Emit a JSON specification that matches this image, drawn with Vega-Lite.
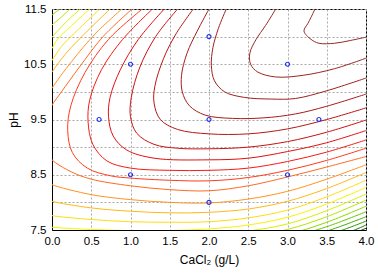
{
  "$schema": "https://vega.github.io/schema/vega-lite/v6.json",
  "width": 314,
  "height": 221,
  "autosize": {"type": "none"},
  "padding": {"left": 52, "top": 9, "right": 12, "bottom": 44},
  "config": {
    "view": {"stroke": "black", "strokeWidth": 1},
    "font": "Liberation Sans",
    "axis": {"labelFont": "Liberation Sans", "titleFont": "Liberation Sans", "labelColor": "black", "titleColor": "black", "labelFontSize": 11.5, "titleFontSize": 12, "titleFontWeight": "normal", "domainColor": "black", "ticks": false, "gridColor": "#a8a8a8", "gridDash": [2, 2], "gridWidth": 1}
  },
  "datasets": {
    "c": [
      {"s":1,"k":1,"x":3.35,"y":11.5},{"s":1,"k":1,"x":3.30,"y":11.35},{"s":1,"k":1,"x":3.26,"y":11.24},{"s":1,"k":1,"x":3.21,"y":11.1},{"s":1,"k":1,"x":3.3,"y":10.95},{"s":1,"k":1,"x":3.4,"y":10.88},{"s":1,"k":1,"x":3.6,"y":10.88},{"s":1,"k":1,"x":3.8,"y":10.93},{"s":1,"k":1,"x":4.0,"y":10.99},
      {"s":2,"k":2,"x":2.85,"y":11.5},{"s":2,"k":2,"x":2.72,"y":11.2},{"s":2,"k":2,"x":2.6,"y":10.95},{"s":2,"k":2,"x":2.52,"y":10.7},{"s":2,"k":2,"x":2.53,"y":10.5},{"s":2,"k":2,"x":2.62,"y":10.36},{"s":2,"k":2,"x":2.85,"y":10.27},{"s":2,"k":2,"x":3.2,"y":10.3},{"s":2,"k":2,"x":3.6,"y":10.42},{"s":2,"k":2,"x":4.0,"y":10.61},
      {"s":3,"k":3,"x":2.22,"y":11.5},{"s":3,"k":3,"x":2.12,"y":11.15},{"s":3,"k":3,"x":2.05,"y":10.8},{"s":3,"k":3,"x":2.03,"y":10.48},{"s":3,"k":3,"x":2.07,"y":10.2},{"s":3,"k":3,"x":2.2,"y":10.0},{"s":3,"k":3,"x":2.45,"y":9.9},{"s":3,"k":3,"x":2.8,"y":9.87},{"s":3,"k":3,"x":3.1,"y":9.88},{"s":3,"k":3,"x":3.5,"y":10.02},{"s":3,"k":3,"x":4.0,"y":10.25},
      {"s":4,"k":4,"x":2.0,"y":11.5},{"s":4,"k":4,"x":1.85,"y":11.1},{"s":4,"k":4,"x":1.72,"y":10.7},{"s":4,"k":4,"x":1.65,"y":10.3},{"s":4,"k":4,"x":1.66,"y":10.0},{"s":4,"k":4,"x":1.75,"y":9.75},{"s":4,"k":4,"x":1.95,"y":9.58},{"s":4,"k":4,"x":2.3,"y":9.52},{"s":4,"k":4,"x":2.7,"y":9.53},{"s":4,"k":4,"x":3.1,"y":9.6},{"s":4,"k":4,"x":3.5,"y":9.74},{"s":4,"k":4,"x":4.0,"y":9.96},
      {"s":5,"k":5,"x":1.8,"y":11.5},{"s":5,"k":5,"x":1.58,"y":11.05},{"s":5,"k":5,"x":1.42,"y":10.6},{"s":5,"k":5,"x":1.31,"y":10.1},{"s":5,"k":5,"x":1.3,"y":9.8},{"s":5,"k":5,"x":1.38,"y":9.5},{"s":5,"k":5,"x":1.6,"y":9.32},{"s":5,"k":5,"x":2.0,"y":9.24},{"s":5,"k":5,"x":2.5,"y":9.24},{"s":5,"k":5,"x":3.0,"y":9.33},{"s":5,"k":5,"x":3.5,"y":9.5},{"s":5,"k":5,"x":4.0,"y":9.71},
      {"s":6,"k":6,"x":1.6,"y":11.5},{"s":6,"k":6,"x":1.32,"y":11.0},{"s":6,"k":6,"x":1.12,"y":10.45},{"s":6,"k":6,"x":1.01,"y":9.9},{"s":6,"k":6,"x":1.0,"y":9.55},{"s":6,"k":6,"x":1.08,"y":9.25},{"s":6,"k":6,"x":1.3,"y":9.05},{"s":6,"k":6,"x":1.6,"y":8.98},{"s":6,"k":6,"x":2.0,"y":8.97},{"s":6,"k":6,"x":2.5,"y":9.0},{"s":6,"k":6,"x":3.0,"y":9.1},{"s":6,"k":6,"x":3.5,"y":9.27},{"s":6,"k":6,"x":4.0,"y":9.49},
      {"s":7,"k":7,"x":1.43,"y":11.5},{"s":7,"k":7,"x":1.1,"y":10.95},{"s":7,"k":7,"x":0.87,"y":10.4},{"s":7,"k":7,"x":0.74,"y":9.9},{"s":7,"k":7,"x":0.72,"y":9.55},{"s":7,"k":7,"x":0.78,"y":9.2},{"s":7,"k":7,"x":0.95,"y":8.95},{"s":7,"k":7,"x":1.3,"y":8.8},{"s":7,"k":7,"x":2.0,"y":8.77},{"s":7,"k":7,"x":2.5,"y":8.8},{"s":7,"k":7,"x":3.0,"y":8.92},{"s":7,"k":7,"x":3.5,"y":9.08},{"s":7,"k":7,"x":4.0,"y":9.3},
      {"s":8,"k":8,"x":1.28,"y":11.5},{"s":8,"k":8,"x":0.9,"y":10.95},{"s":8,"k":8,"x":0.63,"y":10.4},{"s":8,"k":8,"x":0.48,"y":9.85},{"s":8,"k":8,"x":0.46,"y":9.45},{"s":8,"k":8,"x":0.52,"y":9.05},{"s":8,"k":8,"x":0.7,"y":8.75},{"s":8,"k":8,"x":1.0,"y":8.62},{"s":8,"k":8,"x":1.5,"y":8.58},{"s":8,"k":8,"x":2.0,"y":8.58},{"s":8,"k":8,"x":2.5,"y":8.62},{"s":8,"k":8,"x":3.0,"y":8.74},{"s":8,"k":8,"x":3.5,"y":8.91},{"s":8,"k":8,"x":4.0,"y":9.13},
      {"s":9,"k":9,"x":1.15,"y":11.5},{"s":9,"k":9,"x":0.72,"y":10.95},{"s":9,"k":9,"x":0.42,"y":10.35},{"s":9,"k":9,"x":0.24,"y":9.75},{"s":9,"k":9,"x":0.2,"y":9.3},{"s":9,"k":9,"x":0.26,"y":8.9},{"s":9,"k":9,"x":0.45,"y":8.62},{"s":9,"k":9,"x":0.75,"y":8.48},{"s":9,"k":9,"x":1.0,"y":8.44},{"s":9,"k":9,"x":1.5,"y":8.4},{"s":9,"k":9,"x":2.0,"y":8.39},{"s":9,"k":9,"x":2.5,"y":8.45},{"s":9,"k":9,"x":3.0,"y":8.58},{"s":9,"k":9,"x":3.5,"y":8.76},{"s":9,"k":9,"x":4.0,"y":8.98},
      {"s":10,"k":10,"x":1.02,"y":11.5},{"s":10,"k":10,"x":0.65,"y":11.0},{"s":10,"k":10,"x":0.35,"y":10.45},{"s":10,"k":10,"x":0.12,"y":10.0},{"s":10,"k":10,"x":0.0,"y":9.76},{"s":10,"k":10,"x":-0.05,"y":9.62},
      {"s":11,"k":10,"x":-0.05,"y":8.88},{"s":11,"k":10,"x":0.0,"y":8.77},{"s":11,"k":10,"x":0.25,"y":8.55},{"s":11,"k":10,"x":0.5,"y":8.42},{"s":11,"k":10,"x":1.0,"y":8.3},{"s":11,"k":10,"x":1.5,"y":8.23},{"s":11,"k":10,"x":2.0,"y":8.21},{"s":11,"k":10,"x":2.5,"y":8.3},{"s":11,"k":10,"x":3.0,"y":8.46},{"s":11,"k":10,"x":3.5,"y":8.64},{"s":11,"k":10,"x":4.0,"y":8.83},
      {"s":12,"k":11,"x":0.89,"y":11.5},{"s":12,"k":11,"x":0.55,"y":11.05},{"s":12,"k":11,"x":0.25,"y":10.55},{"s":12,"k":11,"x":0.0,"y":10.07},{"s":12,"k":11,"x":-0.05,"y":9.95},
      {"s":13,"k":11,"x":-0.05,"y":8.36},{"s":13,"k":11,"x":0.0,"y":8.32},{"s":13,"k":11,"x":0.5,"y":8.14},{"s":13,"k":11,"x":1.0,"y":8.05},{"s":13,"k":11,"x":1.5,"y":8.0},{"s":13,"k":11,"x":2.0,"y":7.99},{"s":13,"k":11,"x":2.5,"y":8.06},{"s":13,"k":11,"x":3.0,"y":8.2},{"s":13,"k":11,"x":3.5,"y":8.42},{"s":13,"k":11,"x":4.0,"y":8.68},
      {"s":14,"k":12,"x":0.74,"y":11.5},{"s":14,"k":12,"x":0.45,"y":11.1},{"s":14,"k":12,"x":0.18,"y":10.7},{"s":14,"k":12,"x":0.0,"y":10.36},{"s":14,"k":12,"x":-0.05,"y":10.25},
      {"s":15,"k":12,"x":-0.05,"y":8.05},{"s":15,"k":12,"x":0.0,"y":8.02},{"s":15,"k":12,"x":0.5,"y":7.9},{"s":15,"k":12,"x":1.0,"y":7.84},{"s":15,"k":12,"x":1.5,"y":7.81},{"s":15,"k":12,"x":2.0,"y":7.82},{"s":15,"k":12,"x":2.5,"y":7.88},{"s":15,"k":12,"x":3.0,"y":8.02},{"s":15,"k":12,"x":3.5,"y":8.25},{"s":15,"k":12,"x":4.0,"y":8.54},
      {"s":16,"k":13,"x":0.61,"y":11.5},{"s":16,"k":13,"x":0.35,"y":11.15},{"s":16,"k":13,"x":0.12,"y":10.82},{"s":16,"k":13,"x":0.0,"y":10.57},{"s":16,"k":13,"x":-0.05,"y":10.47},
      {"s":17,"k":13,"x":-0.05,"y":7.78},{"s":17,"k":13,"x":0.0,"y":7.76},{"s":17,"k":13,"x":0.5,"y":7.69},{"s":17,"k":13,"x":1.0,"y":7.65},{"s":17,"k":13,"x":1.5,"y":7.64},{"s":17,"k":13,"x":2.0,"y":7.65},{"s":17,"k":13,"x":2.5,"y":7.72},{"s":17,"k":13,"x":3.0,"y":7.86},{"s":17,"k":13,"x":3.5,"y":8.1},{"s":17,"k":13,"x":4.0,"y":8.4},
      {"s":18,"k":14,"x":0.48,"y":11.5},{"s":18,"k":14,"x":0.25,"y":11.2},{"s":18,"k":14,"x":0.07,"y":10.95},{"s":18,"k":14,"x":0.0,"y":10.79},{"s":18,"k":14,"x":-0.05,"y":10.69},
      {"s":19,"k":14,"x":-0.05,"y":7.56},{"s":19,"k":14,"x":0.0,"y":7.55},{"s":19,"k":14,"x":0.5,"y":7.51},{"s":19,"k":14,"x":1.0,"y":7.49},{"s":19,"k":14,"x":1.5,"y":7.49},{"s":19,"k":14,"x":2.0,"y":7.52},{"s":19,"k":14,"x":2.5,"y":7.59},{"s":19,"k":14,"x":3.0,"y":7.73},{"s":19,"k":14,"x":3.5,"y":7.97},{"s":19,"k":14,"x":4.0,"y":8.27},
      {"s":20,"k":15,"x":0.36,"y":11.5},{"s":20,"k":15,"x":0.17,"y":11.25},{"s":20,"k":15,"x":0.0,"y":10.99},{"s":20,"k":15,"x":-0.05,"y":10.9},
      {"s":21,"k":15,"x":1.5,"y":7.35},{"s":21,"k":15,"x":2.0,"y":7.4},{"s":21,"k":15,"x":2.5,"y":7.48},{"s":21,"k":15,"x":3.0,"y":7.61},{"s":21,"k":15,"x":3.5,"y":7.85},{"s":21,"k":15,"x":4.0,"y":8.15},
      {"s":22,"k":16,"x":0.23,"y":11.5},{"s":22,"k":16,"x":0.1,"y":11.33},{"s":22,"k":16,"x":0.0,"y":11.21},{"s":22,"k":16,"x":-0.05,"y":11.13},
      {"s":23,"k":16,"x":2.0,"y":7.28},{"s":23,"k":16,"x":2.5,"y":7.38},{"s":23,"k":16,"x":3.0,"y":7.51},{"s":23,"k":16,"x":3.5,"y":7.74},{"s":23,"k":16,"x":4.0,"y":8.04},
      {"s":24,"k":17,"x":0.1,"y":11.5},{"s":24,"k":17,"x":0.0,"y":11.39},{"s":24,"k":17,"x":-0.05,"y":11.33},
      {"s":25,"k":17,"x":2.5,"y":7.3},{"s":25,"k":17,"x":3.0,"y":7.42},{"s":25,"k":17,"x":3.5,"y":7.64},{"s":25,"k":17,"x":4.0,"y":7.93},
      {"s":26,"k":18,"x":2.75,"y":7.3},{"s":26,"k":18,"x":3.0,"y":7.36},{"s":26,"k":18,"x":3.5,"y":7.56},{"s":26,"k":18,"x":4.0,"y":7.83},
      {"s":27,"k":19,"x":3.0,"y":7.3},{"s":27,"k":19,"x":3.5,"y":7.48},{"s":27,"k":19,"x":4.0,"y":7.74},
      {"s":28,"k":20,"x":3.2,"y":7.3},{"s":28,"k":20,"x":3.6,"y":7.45},{"s":28,"k":20,"x":4.0,"y":7.66},
      {"s":29,"k":21,"x":3.4,"y":7.3},{"s":29,"k":21,"x":3.8,"y":7.47},{"s":29,"k":21,"x":4.0,"y":7.59},
      {"s":30,"k":22,"x":3.6,"y":7.3},{"s":30,"k":22,"x":4.0,"y":7.53}
    ],
    "p": [
      {"x":1.0,"y":10.5},{"x":0.6,"y":9.5},{"x":1.0,"y":8.5},{"x":2.0,"y":11.0},{"x":2.0,"y":9.5},{"x":2.0,"y":8.0},{"x":3.0,"y":10.5},{"x":3.4,"y":9.5},{"x":3.0,"y":8.5}
    ]
  },
  "encoding": {
    "x": {"field": "x", "type": "quantitative", "scale": {"domain": [0, 4], "nice": false, "zero": false}, "axis": {"values": [0, 0.5, 1, 1.5, 2, 2.5, 3, 3.5, 4], "labelExpr": "format(datum.value, '.1f')", "title": "CaCl₂ (g/L)", "labelPadding": 5, "titlePadding": 8, "labelOverlap": false, "labelFlush": false, "labelBound": false, "grid": true}},
    "y": {"field": "y", "type": "quantitative", "scale": {"domain": [7.5, 11.5], "nice": false, "zero": false}, "axis": {"values": [7.5, 8, 8.5, 9, 9.5, 10, 10.5, 11, 11.5], "labelExpr": "(round(datum.value*2) % 2 == 1) ? format(datum.value, '.1f') : ''", "title": "pH", "labelPadding": 6, "titlePadding": 3, "labelOverlap": false, "labelFlush": false, "grid": true}}
  },
  "layer": [
    {
      "data": {"name": "c"},
      "mark": {"type": "line", "clip": true, "strokeWidth": 1, "interpolate": "catmull-rom"},
      "encoding": {
        "color": {"field": "k", "type": "ordinal", "legend": null, "scale": {"domain": [1,2,3,4,5,6,7,8,9,10,11,12,13,14,15,16,17,18,19,20,21,22], "range": ["#932a2a","#982626","#9e2222","#a81c1c","#b81616","#cc1010","#e21010","#f41c14","#ff3a1e","#ff6a20","#ff9420","#ffb818","#ffdc10","#f8f400","#d8f000","#b4e600","#8cd800","#64c600","#40b000","#289600","#147c00","#066000"]}},
        "detail": {"field": "s", "type": "nominal"},
        "order": {"value": null}
      }
    },
    {
      "data": {"name": "p"},
      "mark": {"type": "point", "shape": "circle", "filled": false, "color": "#2233ee", "size": 16, "strokeWidth": 1.2, "opacity": 1}
    }
  ]
}
